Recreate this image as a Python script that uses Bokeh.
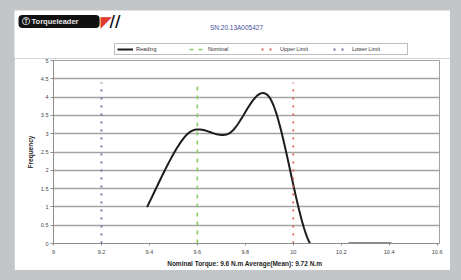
import numpy as np
from bokeh.plotting import figure
from bokeh.layouts import column
from bokeh.models import Range1d, FixedTicker, Legend, LegendItem, Label
from bokeh.embed import file_html
from bokeh.resources import INLINE

# ---------------- data ----------------
bin_centers = [9.39, 9.56, 9.73, 9.90, 10.07, 10.24, 10.41]
frequency = [1, 3, 3, 4, 0, 0, 0]
lower_limit = 9.2
nominal = 9.6
upper_limit = 10.0
limit_line_top = 4.4
x_ticks = [9.0, 9.2, 9.4, 9.6, 9.8, 10.0, 10.2, 10.4, 10.6]
x_tick_labels = ["9", "9.2", "9.4", "9.6", "9.8", "10", "10.2", "10.4", "10.6"]
y_ticks = [0, 0.5, 1, 1.5, 2, 2.5, 3, 3.5, 4, 4.5, 5]
y_tick_labels = ["0", "0.5", "1", "1.5", "2", "2.5", "3", "3.5", "4", "4.5", "5"]
serial = "SN:20.13A005427"
x_title = "Nominal Torque: 9.6 N.m   Average(Mean): 9.72 N.m"
y_title = "Frequency"
legend_labels = ["Reading", "Nominal", "Upper Limit", "Lower Limit"]


def smoothed(xs, ys, n=40):
    """Excel-like smoothed line: cubic Bezier segments with Catmull-Rom tangents."""
    P = np.column_stack([xs, ys]).astype(float)
    out = []
    t = np.linspace(0, 1, n)[:, None]
    for i in range(len(P) - 1):
        p0 = P[i - 1] if i > 0 else P[i]
        p1, p2 = P[i], P[i + 1]
        p3 = P[i + 2] if i + 2 < len(P) else P[i + 1]
        c1 = p1 + (p2 - p0) / 6.0
        c2 = p2 - (p3 - p1) / 6.0
        seg = (1 - t) ** 3 * p1 + 3 * (1 - t) ** 2 * t * c1 + 3 * (1 - t) * t ** 2 * c2 + t ** 3 * p2
        out.append(seg if i == 0 else seg[1:])
    a = np.vstack(out)
    return a[:, 0], a[:, 1]


FONT = "Liberation Sans"
GRID = "#a3a3a3"
STYLE = {
    "Reading": dict(line_color="#1c1c1c", line_width=2),
    "Nominal": dict(line_color="#8ccc66", line_width=1.6, line_dash="4 5"),
    "Upper Limit": dict(line_color="#d06a55", line_width=1.8, line_dash="2 6"),
    "Lower Limit": dict(line_color="#6c70aa", line_width=1.8, line_dash="2 6"),
}
sx, sy = smoothed(bin_centers, frequency)
series_xy = {
    "Reading": (sx, sy),
    "Nominal": ([nominal, nominal], [0, limit_line_top]),
    "Upper Limit": ([upper_limit, upper_limit], [0, limit_line_top]),
    "Lower Limit": ([lower_limit, lower_limit], [0, limit_line_top]),
}

# ---------------- header (logo, serial number, legend) ----------------
head = figure(width=436, height=48, x_range=Range1d(0, 1), y_range=Range1d(0, 1),
              x_axis_type=None, y_axis_type=None, output_backend="svg", toolbar_location=None,
              min_border=0, background_fill_color="white", border_fill_color="white",
              frame_align=False)
head.outline_line_color = None
head.xgrid.visible = False
head.ygrid.visible = False
hdr = dict(x_units="screen", y_units="screen", text_baseline="middle", text_align="left")
head.add_layout(Label(x=4, y=37, text="\u24c9  Torqueleader",
                      text_font=FONT, text_font_size="7.5px", text_font_style="bold",
                      text_color="#e6e6e6", background_fill_color="#111111", border_radius=4,
                      padding=dict(left=3, right=19, top=2, bottom=2), **hdr))
head.add_layout(Label(x=86, y=37, text="\u25e4", text_font="DejaVu Sans",
                      text_font_size="15px", text_color="#e03a2c", **hdr))
head.add_layout(Label(x=95, y=37, text="//", text_font="DejaVu Sans", text_font_size="15px",
                      text_font_style="bold", text_color="#111111", **hdr))
head.add_layout(Label(x=222, y=31, x_units="screen", y_units="screen", text=serial,
                      text_font=FONT, text_font_size="6.5px", text_color="#3f51a0",
                      text_baseline="middle", text_align="center"))

# legend keys: same series drawn in the header's unit ranges fall outside its frame,
# so only their legend samples show
keys = [head.line(*series_xy[name], **STYLE[name]) for name in legend_labels]
legend = Legend(items=[LegendItem(label=name, renderers=[r]) for name, r in zip(legend_labels, keys)],
                orientation="horizontal", location=(100, 3),
                glyph_width=16, glyph_height=6, label_height=6, label_width=53,
                label_standoff=3, spacing=0, padding=2, margin=0,
                label_text_font=FONT, label_text_font_size="5.5px",
                label_text_color="#333333",
                border_line_color="#7a7a7a", border_line_width=1.2,
                background_fill_color="white", background_fill_alpha=1)
head.add_layout(legend, "center")

# ---------------- chart ----------------
p = figure(width=436, height=212, x_range=Range1d(9.0, 10.61), y_range=Range1d(0, 5),
           output_backend="svg", toolbar_location=None,
           min_border_left=39, min_border_right=11, min_border_top=2, min_border_bottom=27,
           background_fill_color="white", border_fill_color="white", frame_align=False)
p.outline_line_color = GRID
p.outline_line_width = 1

p.xgrid.visible = False
p.ygrid.ticker = FixedTicker(ticks=y_ticks)
p.ygrid.grid_line_color = GRID
p.ygrid.grid_line_width = 1.6

p.yaxis.ticker = FixedTicker(ticks=y_ticks)
p.yaxis.major_label_overrides = {t: l for t, l in zip(y_ticks, y_tick_labels)}
p.xaxis.ticker = FixedTicker(ticks=x_ticks)
p.xaxis.major_label_overrides = {t: l for t, l in zip(x_ticks, x_tick_labels)}
for ax in (p.xaxis[0], p.yaxis[0]):
    ax.axis_line_color = "#8c8c8c"
    ax.major_tick_line_color = "#8c8c8c"
    ax.minor_tick_line_color = None
    ax.major_tick_in = 0
    ax.major_label_text_font = FONT
    ax.major_label_text_font_size = "5.5px"
    ax.major_label_text_color = "#444444"
    ax.axis_label_text_font = FONT
    ax.axis_label_text_font_style = "bold"
    ax.axis_label_text_font_size = "6.5px"
    ax.axis_label_text_color = "#1e1e1e"
p.yaxis.major_tick_out = 3
p.yaxis.major_label_standoff = 2
p.yaxis.axis_label = y_title
p.yaxis.axis_label_standoff = 4
p.xaxis.major_tick_out = 2
p.xaxis.major_label_standoff = 4
p.xaxis.axis_label = x_title
p.xaxis.axis_label_standoff = 3

for name in legend_labels:
    p.line(*series_xy[name], **STYLE[name])

page = column(head, p, spacing=0,
              styles={"background-color": "#c2c6c9", "padding": "10px 11px 10px 14px"})
html = file_html(page, INLINE)
open("out.html", "w").write(html)
